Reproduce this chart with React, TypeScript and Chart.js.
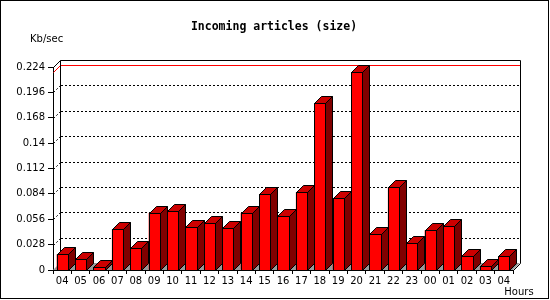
import React, { useEffect, useRef } from "react";
import { Chart, registerables } from "chart.js";

Chart.register(...registerables);

const hours = ["04","05","06","07","08","09","10","11","12","13","14","15","16","17","18","19","20","21","22","23","00","01","02","03","04"];
const sizeKbps = [0.0173,0.0118,0.0030,0.0449,0.0239,0.0629,0.0648,0.0471,0.0515,0.0460,0.0629,0.0839,0.0596,0.0857,0.1839,0.0791,0.2181,0.0394,0.0916,0.0294,0.0438,0.0482,0.0151,0.0040,0.0151];
const yTicks = [0, 0.028, 0.056, 0.084, 0.112, 0.14, 0.168, 0.196, 0.224];
const yTickLabels = ["0", "0.028", "0.056", "0.084", "0.112", "0.14", "0.168", "0.196", "0.224"];
const titleText = "Incoming articles (size)";
const yAxisTitle = "Kb/sec";
const xAxisTitle = "Hours";

const DEPTH = 7;

const threeD = {
  id: "threeD",
  beforeDatasetsDraw(chart: any) {
    const { ctx, chartArea: a, scales } = chart;
    const ys = scales.y;
    const D = DEPTH;
    const L = Math.round(a.left), R = Math.round(a.right), T = Math.round(a.top), B = Math.round(a.bottom);
    ctx.save();
    // floor
    ctx.fillStyle = "#999999";
    ctx.beginPath();
    ctx.moveTo(L, B); ctx.lineTo(L + D, B - D); ctx.lineTo(R + D, B - D); ctx.lineTo(R, B);
    ctx.closePath(); ctx.fill();
    // dotted grid
    ctx.strokeStyle = "#000"; ctx.lineWidth = 1;
    ctx.setLineDash([2, 2]);
    yTicks.forEach((v, i) => {
      if (i === 0 || i === yTicks.length - 1) return;
      const py = Math.round(ys.getPixelForValue(v));
      ctx.beginPath();
      ctx.moveTo(L + 0.5, py + 0.5); ctx.lineTo(L + D + 0.5, py - D + 0.5);
      ctx.stroke();
      ctx.beginPath();
      ctx.moveTo(L + D + 1, py - D + 0.5); ctx.lineTo(R + D, py - D + 0.5);
      ctx.stroke();
    });
    ctx.setLineDash([]);
    // max line
    const mx = Math.max(...sizeKbps);
    const pm = Math.round(ys.getPixelForValue(mx));
    ctx.strokeStyle = "#ff0000";
    ctx.beginPath();
    ctx.moveTo(L + 0.5, pm + 0.5); ctx.lineTo(L + D + 0.5, pm - D + 0.5); ctx.lineTo(R + D, pm - D + 0.5);
    ctx.stroke();
    // frame of back wall
    ctx.strokeStyle = "#000";
    ctx.beginPath();
    ctx.moveTo(L + 0.5, T + 0.5); ctx.lineTo(L + D + 0.5, T - D + 0.5);
    ctx.lineTo(R + D + 0.5, T - D + 0.5); ctx.lineTo(R + D + 0.5, B - D + 0.5);
    ctx.lineTo(R + 0.5, B + 0.5);
    ctx.moveTo(L + D + 0.5, T - D + 0.5); ctx.lineTo(L + D + 0.5, B - D + 0.5);
    ctx.stroke();
    ctx.restore();
  },
  afterDatasetsDraw(chart: any) {
    const { ctx } = chart;
    const meta = chart.getDatasetMeta(0);
    const D = DEPTH;
    ctx.save();
    ctx.lineWidth = 1;
    ctx.strokeStyle = "#000";
    meta.data.forEach((el: any) => {
      const p = el.getProps(["x", "y", "base", "width"], true);
      const xl = Math.round(p.x - p.width / 2);
      const xr = Math.round(p.x + p.width / 2);
      const yt = Math.round(p.y);
      const yb = Math.round(p.base);
      // side
      ctx.fillStyle = "#800000";
      ctx.beginPath();
      ctx.moveTo(xr + 0.5, yt + 0.5); ctx.lineTo(xr + D + 0.5, yt - D + 0.5);
      ctx.lineTo(xr + D + 0.5, yb - D + 0.5); ctx.lineTo(xr + 0.5, yb + 0.5);
      ctx.closePath(); ctx.fill(); ctx.stroke();
      // top
      ctx.fillStyle = "#cc0000";
      ctx.beginPath();
      ctx.moveTo(xl + 0.5, yt + 0.5); ctx.lineTo(xl + D + 0.5, yt - D + 0.5);
      ctx.lineTo(xr + D + 0.5, yt - D + 0.5); ctx.lineTo(xr + 0.5, yt + 0.5);
      ctx.closePath(); ctx.fill(); ctx.stroke();
      // front
      ctx.fillStyle = "#ff0000";
      ctx.fillRect(xl, yt, xr - xl, yb - yt);
      ctx.strokeRect(xl + 0.5, yt + 0.5, xr - xl, yb - yt);
    });
    ctx.restore();
  },
  afterDraw(chart: any) {
    const { ctx } = chart;
    ctx.save();
    ctx.fillStyle = "#000";
    ctx.font = "bold 11.5px 'DejaVu Sans Mono'";
    ctx.textAlign = "center";
    ctx.textBaseline = "alphabetic";
    ctx.fillText(titleText, 274, 30);
    ctx.font = "10px 'DejaVu Sans'";
    ctx.textAlign = "left";
    ctx.fillText(yAxisTitle, 30, 42);
    ctx.textAlign = "center";
    ctx.fillText(xAxisTitle, 519, 295);
    ctx.strokeStyle = "#000";
    ctx.lineWidth = 1;
    ctx.strokeRect(0.5, 0.5, 548, 298);
    ctx.restore();
  },
};

export default function App() {
  const ref = useRef<HTMLCanvasElement | null>(null);
  useEffect(() => {
    if (!ref.current) return;
    Chart.defaults.font.family = "'DejaVu Sans'";
    Chart.defaults.font.size = 10;
    Chart.defaults.color = "#000";
    const chart = new Chart(ref.current, {
      type: "bar",
      data: {
        labels: hours,
        datasets: [
          {
            data: sizeKbps,
            backgroundColor: "#ff0000",
            borderWidth: 0,
            barPercentage: 0.6,
            categoryPercentage: 1.0,
          },
        ],
      },
      options: {
        animation: false,
        responsive: false,
        devicePixelRatio: 1,
        events: [],
        layout: { padding: { left: 8, right: 37, top: 67, bottom: 0 } },
        plugins: { legend: { display: false }, tooltip: { enabled: false }, title: { display: false } },
        scales: {
          x: {
            type: "category",
            offset: true,
            afterFit: (s: any) => { s.height = 30; },
            grid: { offset: true, drawOnChartArea: false, drawTicks: true, tickLength: 4, color: "#000" },
            border: { display: true, color: "#000" },
            ticks: { autoSkip: false, maxRotation: 0, minRotation: 0, padding: 1, color: "#000" },
          },
          y: {
            type: "linear",
            min: 0,
            max: 0.224,
            afterFit: (s: any) => { s.width = 45; },
            afterBuildTicks: (s: any) => { s.ticks = yTicks.map((v) => ({ value: v })); },
            grid: { drawOnChartArea: false, drawTicks: true, tickLength: 5, color: "#000" },
            border: { display: true, color: "#000" },
            ticks: { padding: 3, color: "#000", callback: (_v: any, i: number) => yTickLabels[i] },
          },
        },
      },
      plugins: [threeD],
    });
    return () => chart.destroy();
  }, []);
  return (
    <div style={{ position: "fixed", left: 0, top: 0, width: 550, height: 300, background: "#fff" }}>
      <canvas ref={ref} width={550} height={300} />
    </div>
  );
}
